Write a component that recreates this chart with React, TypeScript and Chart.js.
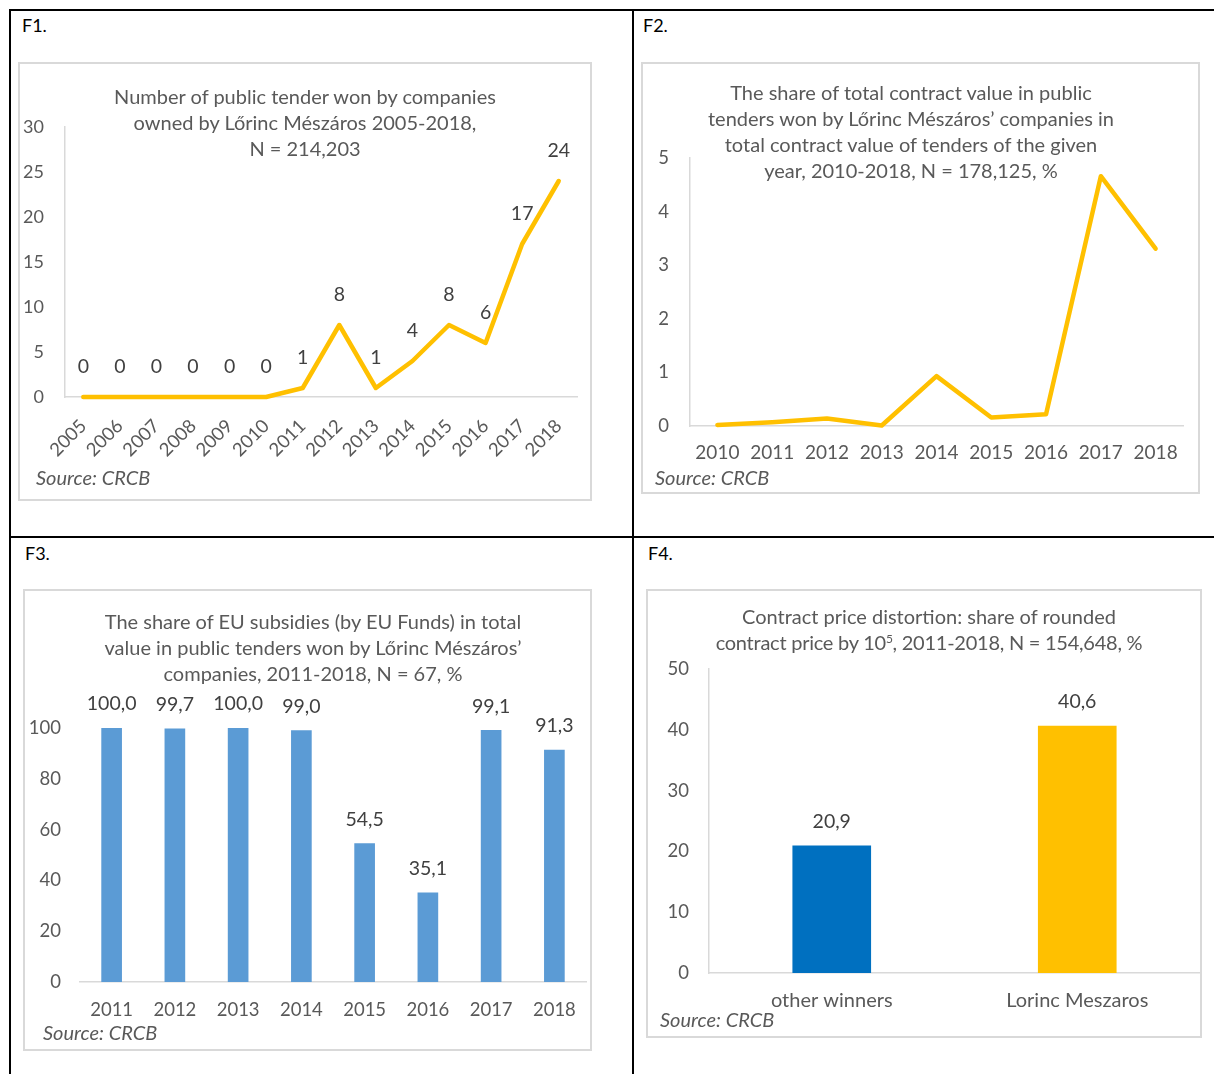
import React, { useEffect, useRef } from "react";
import { Chart, registerables } from "chart.js";

Chart.register(...registerables);

const FONT = "Lato, 'Open Sans', sans-serif";
const TEXT_GRAY = "#595959";
const LABEL_DARK = "#404040";
const AXIS_LINE = "#d9d9d9";

// ---------- F1 ----------
const F1_YEARS = ["2005", "2006", "2007", "2008", "2009", "2010", "2011", "2012", "2013", "2014", "2015", "2016", "2017", "2018"];
const F1_TENDERS_WON = [0, 0, 0, 0, 0, 0, 1, 8, 1, 4, 8, 6, 17, 24];
const F1_TITLE = ["Number of public tender won by companies", "owned by Lőrinc Mészáros 2005-2018,", "N = 214,203"];

// ---------- F2 ----------
const F2_YEARS = ["2010", "2011", "2012", "2013", "2014", "2015", "2016", "2017", "2018"];
const F2_VALUE_SHARE = [0.02, 0.07, 0.14, 0.01, 0.93, 0.16, 0.22, 4.66, 3.31];
const F2_TITLE = [
  "The share of total contract value in public",
  "tenders won by Lőrinc Mészáros’ companies in",
  "total contract value of tenders of the given",
  "year, 2010-2018, N = 178,125, %",
];

// ---------- F3 ----------
const F3_YEARS = ["2011", "2012", "2013", "2014", "2015", "2016", "2017", "2018"];
const F3_EU_SHARE = [100.0, 99.7, 100.0, 99.0, 54.5, 35.1, 99.1, 91.3];
const F3_TITLE = [
  "The share of EU subsidies (by EU Funds) in total",
  "value in public tenders won by Lőrinc Mészáros’",
  "companies, 2011-2018, N = 67, %",
];

// ---------- F4 ----------
const F4_GROUPS = ["other winners", "Lorinc Meszaros"];
const F4_ROUNDED_SHARE = [20.9, 40.6];
const F4_COLORS = ["#0070C0", "#FFC000"];
const F4_TITLE = [
  "Contract price distortion: share of rounded",
  "contract price by 10^5, 2011-2018, N = 154,648, %",
];

type Box = { left: number; top: number; width: number; height: number };
type Area = { left: number; top: number; right: number; bottom: number };
type Geom = { yAxisWidth: number; xAxisHeight: number; padTop: number; padRight: number };

const intFmt = (v: number) => String(v);
const commaFmt = (v: number) => v.toFixed(1).replace(".", ",");

function valueLabelPlugin(format: (v: number) => string, offset: number, size: number) {
  return {
    id: "valueLabels",
    afterDatasetsDraw(chart: any) {
      const ctx = chart.ctx;
      const meta = chart.getDatasetMeta(0);
      const values = chart.data.datasets[0].data as number[];
      ctx.save();
      ctx.font = `${size}px ${FONT}`;
      ctx.fillStyle = LABEL_DARK;
      ctx.textAlign = "center";
      ctx.textBaseline = "middle";
      meta.data.forEach((el: any, i: number) => {
        ctx.fillText(format(values[i]), el.x, el.y - offset);
      });
      ctx.restore();
    },
  };
}

function scalesFor(g: Geom, yMax: number, yStep: number, showYLine: boolean, yPad: number, tickSize: number, xTicks: any) {
  return {
    x: {
      offset: true,
      grid: { display: false, drawTicks: false },
      border: { display: true, color: AXIS_LINE, width: 1.5 },
      ticks: { autoSkip: false, color: TEXT_GRAY, font: { family: FONT, size: tickSize }, ...xTicks },
      afterFit: (s: any) => {
        s.height = g.xAxisHeight;
        s.paddingLeft = 0;
        s.paddingRight = 0;
      },
    },
    y: {
      min: 0,
      max: yMax,
      grid: { display: false, drawTicks: false },
      border: { display: showYLine, color: AXIS_LINE, width: 1.5 },
      ticks: { stepSize: yStep, color: TEXT_GRAY, padding: yPad, font: { family: FONT, size: tickSize } },
      afterFit: (s: any) => {
        s.width = g.yAxisWidth;
      },
    },
  };
}

function baseOptions(g: Geom, scales: any) {
  return {
    responsive: true,
    maintainAspectRatio: false,
    animation: false,
    layout: { padding: { top: g.padTop, right: g.padRight, left: 0, bottom: 0 } },
    plugins: { legend: { display: false }, title: { display: false }, tooltip: { enabled: false } },
    scales,
  };
}

function ChartPanel({ box, area, build }: { box: Box; area: Area; build: (g: Geom) => any }) {
  const ref = useRef<HTMLCanvasElement>(null);
  useEffect(() => {
    const g: Geom = {
      yAxisWidth: area.left - box.left,
      xAxisHeight: box.top + box.height - area.bottom,
      padTop: area.top - box.top,
      padRight: box.left + box.width - area.right,
    };
    const chart = new Chart(ref.current as HTMLCanvasElement, build(g));
    return () => chart.destroy();
  }, []);
  return (
    <>
      <div
        style={{
          position: "absolute",
          left: box.left,
          top: box.top,
          width: box.width,
          height: box.height,
          border: `2px solid ${AXIS_LINE}`,
          boxSizing: "border-box",
        }}
      />
      <div style={{ position: "absolute", left: box.left, top: box.top, width: box.width, height: box.height }}>
        <canvas ref={ref} />
      </div>
    </>
  );
}

// "^5" inside a title line is rendered as a superscript 5
function renderLine(line: string) {
  const parts = line.split("^");
  if (parts.length === 1) return line;
  return (
    <span style={{ letterSpacing: "-0.25px" }}>
      {parts[0]}
      <sup style={{ fontSize: 12, lineHeight: 0, verticalAlign: "7px" }}>{parts[1].charAt(0)}</sup>
      {parts[1].slice(1)}
    </span>
  );
}

function TitleBlock({ cx, firstCenter, lines }: { cx: number; firstCenter: number; lines: string[] }) {
  return (
    <div
      style={{
        position: "absolute",
        left: cx - 300,
        width: 600,
        top: firstCenter - 13,
        textAlign: "center",
        fontFamily: FONT,
        fontSize: 20,
        lineHeight: "26px",
        color: TEXT_GRAY,
        whiteSpace: "pre",
      }}
    >
      {lines.map((l) => (
        <div key={l} style={{ height: 26 }}>
          {renderLine(l)}
        </div>
      ))}
    </div>
  );
}

function Source({ x, cy }: { x: number; cy: number }) {
  return (
    <div
      style={{
        position: "absolute",
        left: x,
        top: cy - 12,
        fontFamily: FONT,
        fontStyle: "italic",
        fontSize: 20,
        lineHeight: "24px",
        color: TEXT_GRAY,
        whiteSpace: "pre",
      }}
    >
      Source: CRCB
    </div>
  );
}

function PanelLabel({ x, cy, text }: { x: number; cy: number; text: string }) {
  return (
    <div
      style={{
        position: "absolute",
        left: x,
        top: cy - 12,
        fontFamily: FONT,
        fontSize: 18,
        lineHeight: "24px",
        color: "#000",
      }}
    >
      {text}
    </div>
  );
}

function Rule({ left, top, width, height }: { left: number; top: number; width: number; height: number }) {
  return <div style={{ position: "absolute", left, top, width, height, background: "#000" }} />;
}

export default function App() {
  const f1Build = (g: Geom) => ({
    type: "line",
    data: {
      labels: F1_YEARS,
      datasets: [
        {
          data: F1_TENDERS_WON,
          borderColor: "#FFC000",
          borderWidth: 4.5,
          pointRadius: 0,
          tension: 0,
          borderJoinStyle: "round",
          borderCapStyle: "round",
          clip: false,
        },
      ],
    },
    options: baseOptions(
      g,
      scalesFor(g, 30, 5, true, 21, 18, { minRotation: 45, maxRotation: 45, padding: 18, font: { family: FONT, size: 18.5 } })
    ),
    plugins: [valueLabelPlugin(intFmt, 30, 19.5)],
  });

  const f2Build = (g: Geom) => ({
    type: "line",
    data: {
      labels: F2_YEARS,
      datasets: [
        {
          data: F2_VALUE_SHARE,
          borderColor: "#FFC000",
          borderWidth: 4.5,
          pointRadius: 0,
          tension: 0,
          borderJoinStyle: "round",
          borderCapStyle: "round",
          clip: false,
        },
      ],
    },
    options: baseOptions(g, scalesFor(g, 5, 1, true, 21, 18.5, { maxRotation: 0, padding: 15, font: { family: FONT, size: 19 } })),
  });

  const f3Build = (g: Geom) => ({
    type: "bar",
    data: {
      labels: F3_YEARS,
      datasets: [{ data: F3_EU_SHARE, backgroundColor: "#5B9BD5", barThickness: 20 }],
    },
    options: baseOptions(g, scalesFor(g, 100, 20, false, 19, 18.5, { maxRotation: 0, padding: 17 })),
    plugins: [valueLabelPlugin(commaFmt, 24, 19.5)],
  });

  const f4Build = (g: Geom) => ({
    type: "bar",
    data: {
      labels: F4_GROUPS,
      datasets: [{ data: F4_ROUNDED_SHARE, backgroundColor: F4_COLORS, barThickness: 78 }],
    },
    options: baseOptions(g, scalesFor(g, 50, 10, true, 20, 18.5, { maxRotation: 0, padding: 16, font: { family: FONT, size: 20 } })),
    plugins: [valueLabelPlugin(commaFmt, 24, 19.5)],
  });

  return (
    <div style={{ position: "absolute", left: 0, top: 0, width: 1214, height: 1074, overflow: "hidden", background: "#fff" }}>
      {/* table rules */}
      <Rule left={9} top={9} width={1205} height={2} />
      <Rule left={9} top={9} width={2} height={1065} />
      <Rule left={632} top={9} width={2} height={1065} />
      <Rule left={9} top={536} width={1205} height={2} />

      <PanelLabel x={22} cy={25} text="F1." />
      <PanelLabel x={643} cy={25} text="F2." />
      <PanelLabel x={25} cy={553} text="F3." />
      <PanelLabel x={648} cy={553} text="F4." />

      <ChartPanel box={{ left: 18, top: 62, width: 574, height: 439 }} area={{ left: 65, top: 127, right: 577, bottom: 397 }} build={f1Build} />
      <TitleBlock cx={305} firstCenter={96} lines={F1_TITLE} />
      <Source x={36} cy={477} />

      <ChartPanel box={{ left: 641, top: 62, width: 559, height: 432 }} area={{ left: 690, top: 158, right: 1183, bottom: 426 }} build={f2Build} />
      <TitleBlock cx={911} firstCenter={92} lines={F2_TITLE} />
      <Source x={655} cy={477} />

      <ChartPanel box={{ left: 23, top: 589, width: 569, height: 462 }} area={{ left: 80, top: 728, right: 586, bottom: 982 }} build={f3Build} />
      <TitleBlock cx={313} firstCenter={621} lines={F3_TITLE} />
      <Source x={43} cy={1032} />

      <ChartPanel box={{ left: 646, top: 589, width: 556, height: 449 }} area={{ left: 709, top: 669, right: 1200, bottom: 973 }} build={f4Build} />
      <TitleBlock cx={929} firstCenter={616} lines={F4_TITLE} />
      <Source x={660} cy={1019} />
    </div>
  );
}
